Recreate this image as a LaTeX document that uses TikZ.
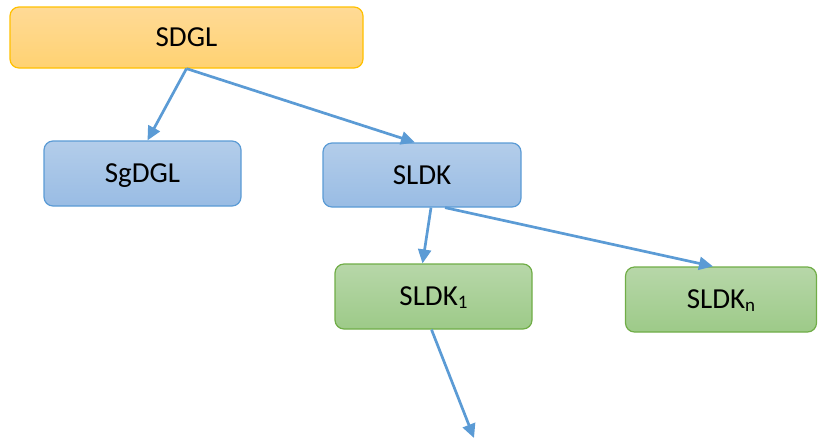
\documentclass[tikz,border=0pt]{standalone}
\usepackage{fontspec}
\setmainfont{Carlito}
\usetikzlibrary{arrows.meta}

\definecolor{arrowblue}{HTML}{5B9BD5}
\definecolor{orangetop}{HTML}{FFDA96}
\definecolor{orangebot}{HTML}{FFD272}
\definecolor{orangeline}{HTML}{FFC000}
\definecolor{bluetop}{HTML}{B3CDEA}
\definecolor{bluebot}{HTML}{99BCE4}
\definecolor{blueline}{HTML}{5B9BD5}
\definecolor{greentop}{HTML}{B7D7A9}
\definecolor{greenbot}{HTML}{9DCA88}
\definecolor{greenline}{HTML}{70AD47}

\begin{document}
\begin{tikzpicture}[x=1pt,y=-1pt,
  box/.style={rectangle, rounded corners=9pt, line width=1.2pt,
    font=\fontsize{29}{35}\selectfont, text height=18.7pt, text depth=0pt,
    inner sep=0pt, anchor=center},
  orangebox/.style={box, draw=orangeline, top color=orangetop, bottom color=orangebot},
  bluebox/.style={box, draw=blueline, top color=bluetop, bottom color=bluebot},
  greenbox/.style={box, draw=greenline, top color=greentop, bottom color=greenbot},
  link/.style={draw=arrowblue, line width=2.7pt,
    -{Triangle[length=14pt,width=13pt]}}]

\useasboundingbox (0,0) rectangle (818,440);

\node[orangebox, minimum width=353pt, minimum height=61pt] (sdgl) at (186.5,37.5) {SDGL};
\node[bluebox, minimum width=197pt, minimum height=65pt] (sgdgl) at (142.5,173.5) {SgDGL};
\node[bluebox, minimum width=198pt, minimum height=64pt] (sldk) at (422,175) {SLDK};
\node[greenbox, minimum width=197pt, minimum height=65pt] (sldk1) at (433.5,296.5) {SLDK\raisebox{-3pt}{\fontsize{19}{22}\selectfont 1}};
\node[greenbox, minimum width=191pt, minimum height=65pt] (sldkn) at (721,299.5) {SLDK\raisebox{-3pt}{\fontsize{19}{22}\selectfont n}};

\coordinate (next) at (474,438);

\draw[link] (sdgl.south) -- ([xshift=5pt]sgdgl.north);
\draw[link] (sdgl.south) -- ([xshift=-7pt]sldk.north);
\draw[link] ([xshift=9pt]sldk.south) -- ([xshift=-11pt]sldk1.north);
\draw[link] ([xshift=23pt]sldk.south) -- ([xshift=-8pt]sldkn.north);
\draw[link] ([xshift=-2pt]sldk1.south) -- (next);
\end{tikzpicture}
\end{document}
